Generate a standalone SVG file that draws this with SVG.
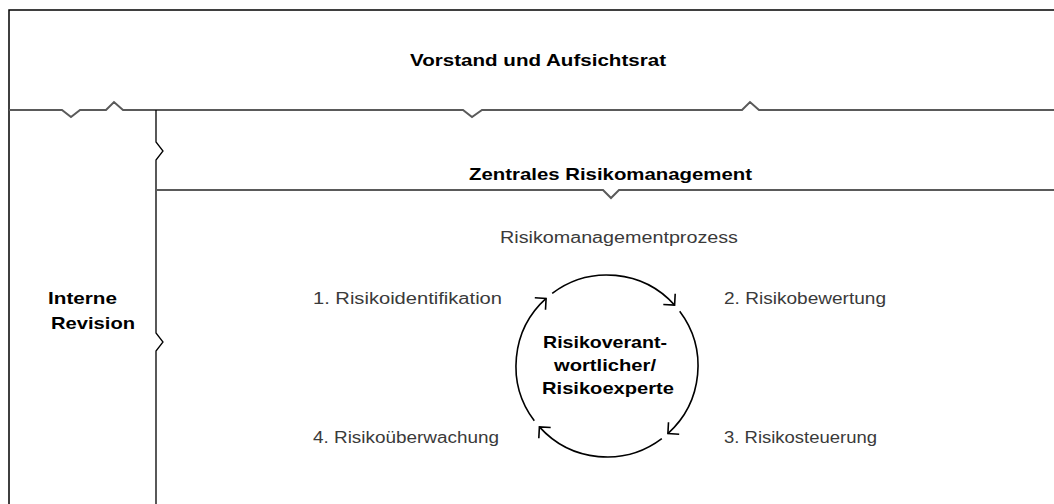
<svg xmlns="http://www.w3.org/2000/svg" width="1054" height="504" viewBox="0 0 1054 504">
<style>
  .frame { fill: none; stroke: #000; stroke-width: 1.5; }
  .divider { fill: none; stroke: #5a5a5a; stroke-width: 2; stroke-linejoin: miter; }
  .vline { fill: none; stroke: #000; stroke-width: 1.3; }
  .arc { fill: none; stroke: #000; stroke-width: 1.6; }
  .title { font-family: "Liberation Sans", Arial, sans-serif; font-weight: bold; font-size: 17px; fill: #000; }
  .label { font-family: "Liberation Sans", Arial, sans-serif; font-size: 16px; fill: #3a3a3a; }
</style>
<defs>
  <marker id="ah" viewBox="-12 -12 24 24" markerWidth="24" markerHeight="24" refX="0" refY="0" orient="auto" markerUnits="userSpaceOnUse">
    <path d="M-8,-8 L0,0 L-8,8" fill="none" stroke="#000" stroke-width="1.6"/>
  </marker>
</defs>
<rect width="1054" height="504" fill="#fff"/>

<g id="panels">
  <path class="frame" d="M9,504 V10 H1054"/>
  <path class="divider" d="M9,110 H62 L71,117 L80,110 H106 L114,102 L123,110 H463 L472,117 L482,110 H742 L750,102 L759,110 H1054"/>
  <path class="vline" d="M156,110 V142 L163,151 L156,160 V333 L163,342 L156,351 V504"/>
  <path class="divider" d="M156,190 H603 L611,198 L619,190 H1054"/>
</g>

<g id="vorstand">
  <text class="title" x="538" y="66" text-anchor="middle" textLength="256" lengthAdjust="spacingAndGlyphs">Vorstand und Aufsichtsrat</text>
</g>
<g id="zentrales-risikomanagement">
  <text class="title" x="610.5" y="180" text-anchor="middle" textLength="283" lengthAdjust="spacingAndGlyphs">Zentrales Risikomanagement</text>
</g>
<g id="interne-revision">
  <text class="title" x="48" y="304" textLength="69" lengthAdjust="spacingAndGlyphs">Interne</text>
  <text class="title" x="51" y="329" textLength="84" lengthAdjust="spacingAndGlyphs">Revision</text>
</g>
<g id="risikomanagementprozess">
  <text class="label" x="619" y="243" text-anchor="middle" textLength="238" lengthAdjust="spacingAndGlyphs">Risikomanagementprozess</text>
</g>
<g id="step1">
  <text class="label" x="313" y="304" textLength="189" lengthAdjust="spacingAndGlyphs">1. Risikoidentifikation</text>
</g>
<g id="step2">
  <text class="label" x="724" y="304" textLength="162" lengthAdjust="spacingAndGlyphs">2. Risikobewertung</text>
</g>
<g id="step3">
  <text class="label" x="724" y="443" textLength="153" lengthAdjust="spacingAndGlyphs">3. Risikosteuerung</text>
</g>
<g id="step4">
  <text class="label" x="313" y="443" textLength="186" lengthAdjust="spacingAndGlyphs">4. Risikoüberwachung</text>
</g>
<g id="risikoverantwortlicher">
  <text class="title" x="605" y="348" text-anchor="middle" textLength="124" lengthAdjust="spacingAndGlyphs">Risikoverant-</text>
  <text class="title" x="605" y="371" text-anchor="middle" textLength="102" lengthAdjust="spacingAndGlyphs">wortlicher/</text>
  <text class="title" x="608" y="394" text-anchor="middle" textLength="132" lengthAdjust="spacingAndGlyphs">Risikoexperte</text>
</g>

<g id="connectors">
  <path class="arc" marker-end="url(#ah)" d="M552.2,293.3 A91,91 0 0 1 674.6,305.1"/>
  <path class="arc" marker-end="url(#ah)" d="M679.7,311.2 A91,91 0 0 1 667.9,433.6"/>
  <path class="arc" marker-end="url(#ah)" d="M661.8,438.7 A91,91 0 0 1 539.4,426.9"/>
  <path class="arc" marker-end="url(#ah)" d="M534.3,420.8 A91,91 0 0 1 546.1,298.4"/>
</g>
</svg>
